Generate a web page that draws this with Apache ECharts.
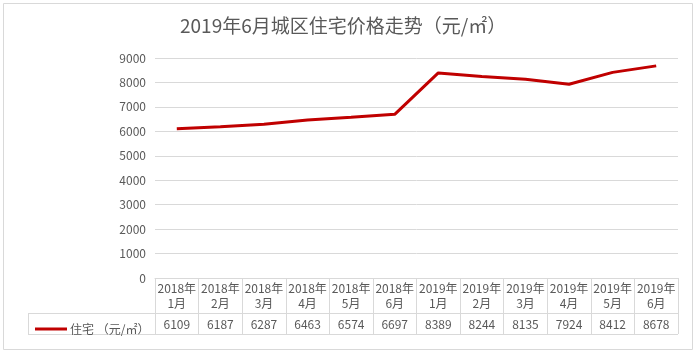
<!DOCTYPE html>
<html><head><meta charset="utf-8">
<script src="https://cdn.jsdelivr.net/npm/echarts@6/dist/echarts.min.js"></script>
<style>html,body{margin:0;padding:0;background:#fff}#c{width:696px;height:355px}</style>
</head><body><div id="c"></div>
<script>
const years = ['2018年','2018年','2018年','2018年','2018年','2018年','2019年','2019年','2019年','2019年','2019年','2019年'];
const months = ['1月','2月','3月','4月','5月','6月','1月','2月','3月','4月','5月','6月'];
const categories = years.map((y,i)=>y+months[i]);
const seriesName = '住宅 （元/㎡）';
const values = [6109,6187,6287,6463,6574,6697,8389,8244,8135,7924,8412,8678];
const title = '2019年6月城区住宅价格走势（元/㎡）';
const gray = '#595959', lineGray = '#d9d9d9';
const font = '"Noto Sans CJK SC","Noto Sans",sans-serif';

const chart = echarts.init(document.getElementById('c'));
chart.setOption({
  animation:false,
  textStyle:{fontFamily:font},
  title:{text:title,left:175,top:11,
    textStyle:{fontSize:19,fontWeight:'normal',color:gray,fontFamily:font}},
  legend:{left:30,top:318,itemWidth:32,itemHeight:3,icon:'rect',itemGap:0,
    textStyle:{color:gray,fontSize:12,fontFamily:font,padding:[0,0,0,-2]},data:[seriesName]},
  grid:{left:155,right:18,top:58,bottom:77,containLabel:false},
  xAxis:{type:'category',data:categories,boundaryGap:true,
    axisLine:{lineStyle:{color:lineGray}},
    axisTick:{show:true,length:56,lineStyle:{color:lineGray},alignWithLabel:false},
    axisLabel:{interval:0,margin:3,color:gray,align:'center',
      formatter:(v,i)=>'{a|'+years[i]+'}\n{a|'+months[i]+'}\n{b|'+values[i]+'}',
      rich:{a:{fontSize:12,lineHeight:15,color:gray,fontFamily:font,align:'center'},
            b:{fontSize:12,lineHeight:27,color:gray,fontFamily:font,align:'center'}}}},
  yAxis:{type:'value',min:0,max:9000,interval:1000,
    axisLine:{show:false},axisTick:{show:false},
    axisLabel:{color:gray,fontSize:12,margin:9,formatter:v=>String(v)},
    splitLine:{lineStyle:{color:lineGray}}},
  series:[{name:seriesName,type:'line',data:values,showSymbol:false,symbol:'none',
    lineStyle:{color:'#C00000',width:3},itemStyle:{color:'#C00000'}}],
  graphic:[
    {type:'rect',shape:{x:3.5,y:3.5,width:689,height:346},style:{fill:'none',stroke:lineGray,lineWidth:1}},
    {type:'line',shape:{x1:28,y1:313.5,x2:678,y2:313.5},style:{stroke:lineGray,lineWidth:1}},
    {type:'line',shape:{x1:28,y1:334.5,x2:678,y2:334.5},style:{stroke:lineGray,lineWidth:1}},
    {type:'line',shape:{x1:28.5,y1:313,x2:28.5,y2:335},style:{stroke:lineGray,lineWidth:1}}
  ]
});
</script></body></html>
